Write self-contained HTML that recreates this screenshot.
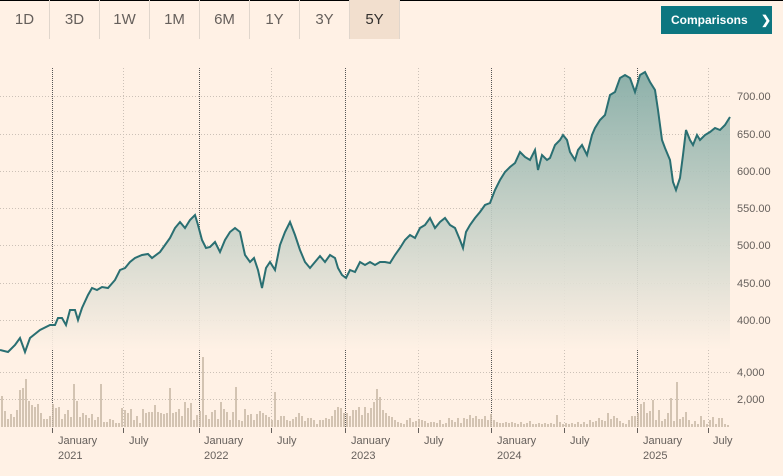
<!DOCTYPE html>
<html><head><meta charset="utf-8"><style>
body{margin:0;background:#fff1e5;width:783px;height:476px;overflow:hidden;font-family:"Liberation Sans",sans-serif}
.tabs{position:absolute;left:0;top:0;height:39px;display:flex}
.tab{width:49px;height:39px;line-height:39px;text-align:center;font-size:15px;color:#66605c;border-right:1px solid #e0d6cc}
.tab.on{background:#f2dfce;color:#33302e}
.btn{position:absolute;left:661px;top:6px;width:111px;height:28px;background:#0d7680;color:#fff;font-size:12px;font-weight:bold;line-height:28px;padding-left:10px;box-sizing:border-box}
svg{position:absolute;left:0;top:0}
</style></head><body>
<div style="position:absolute;left:0;top:0;width:783px;height:1px;background:#000"></div>
<div class="tabs"><div class="tab">1D</div><div class="tab">3D</div><div class="tab">1W</div><div class="tab">1M</div><div class="tab">6M</div><div class="tab">1Y</div><div class="tab">3Y</div><div class="tab on">5Y</div></div>
<div class="btn">Comparisons <span style="margin-left:10px">❯</span></div>
<svg width="783" height="476" xmlns="http://www.w3.org/2000/svg">
<defs><linearGradient id="g" x1="0" y1="70" x2="0" y2="350" gradientUnits="userSpaceOnUse"><stop offset="0" stop-color="#7fa9a3"/><stop offset="1" stop-color="#fff1e5"/></linearGradient></defs>
<g stroke="#ccc1b7" stroke-width="1" stroke-dasharray="1,2">
<line x1="0" y1="96.5" x2="730" y2="96.5"/><line x1="0" y1="134.5" x2="730" y2="134.5"/><line x1="0" y1="171.5" x2="730" y2="171.5"/><line x1="0" y1="208.5" x2="730" y2="208.5"/><line x1="0" y1="245.5" x2="730" y2="245.5"/><line x1="0" y1="283.5" x2="730" y2="283.5"/><line x1="0" y1="320.5" x2="730" y2="320.5"/>
<line x1="0" y1="372.5" x2="730" y2="372.5"/><line x1="0" y1="399.5" x2="730" y2="399.5"/>
<line x1="123.5" y1="68" x2="123.5" y2="428"/><line x1="271.5" y1="68" x2="271.5" y2="428"/><line x1="418.5" y1="68" x2="418.5" y2="428"/><line x1="564.5" y1="68" x2="564.5" y2="428"/><line x1="708.5" y1="68" x2="708.5" y2="428"/>
</g>
<g stroke="#555" stroke-width="1" stroke-dasharray="1,1">
<line x1="52.5" y1="68" x2="52.5" y2="428"/><line x1="199.5" y1="68" x2="199.5" y2="428"/><line x1="345.5" y1="68" x2="345.5" y2="428"/><line x1="491.5" y1="68" x2="491.5" y2="428"/><line x1="637.5" y1="68" x2="637.5" y2="428"/>
</g>
<path id="area" fill="url(#g)" opacity="0.9"/>
<path id="line" fill="none" stroke="#2a6f72" stroke-width="2"/>
<path stroke="#c8b8a6" stroke-width="1.6" fill="none" d="M2 427V396M5 427V411M8 427V419M11 427V414M14 427V417M17 427V410M20 427V390M23 427V388M26 427V379M29 427V401M32 427V405M35 427V407M38 427V404M41 427V413M44 427V419M47 427V419M50 427V416M53 427V404M56 427V408M59 427V407M62 427V419M65 427V414M68 427V410M71 427V417M74 427V384M77 427V401M80 427V417M83 427V413M86 427V415M89 427V418M92 427V414M95 427V420M98 427V417M101 427V384M104 427V422M107 427V422M110 427V419M113 427V420M116 427V423M119 427V423M122 427V408M125 427V410M128 427V413M131 427V409M134 427V420M137 427V416M140 427V423M143 427V409M146 427V413M149 427V412M152 427V412M155 427V405M158 427V412M161 427V413M164 427V414M167 427V413M170 427V388M173 427V413M176 427V412M179 427V409M182 427V416M185 427V402M188 427V408M191 427V403M194 427V420M197 427V415M200 427V411M203 427V357M206 427V415M209 427V419M212 427V412M215 427V410M218 427V419M221 427V402M224 427V409M227 427V412M230 427V420M233 427V412M236 427V387M239 427V420M242 427V421M245 427V409M248 427V415M251 427V414M254 427V420M257 427V414M260 427V411M263 427V413M266 427V415M269 427V417M272 427V420M275 427V392M278 427V420M281 427V416M284 427V416M287 427V420M290 427V421M293 427V419M296 427V417M299 427V413M302 427V416M305 427V421M308 427V418M311 427V418M314 427V420M317 427V424M320 427V420M323 427V420M326 427V418M329 427V419M332 427V416M335 427V410M338 427V407M341 427V408M344 427V413M347 427V413M350 427V416M353 427V410M356 427V410M359 427V407M362 427V415M365 427V407M368 427V413M371 427V408M374 427V402M377 427V389M380 427V397M383 427V410M386 427V413M389 427V416M392 427V417M395 427V420M398 427V422M401 427V423M404 427V424M407 427V420M410 427V418M413 427V422M416 427V421M419 427V419M422 427V420M425 427V421M428 427V423M431 427V422M434 427V422M437 427V423M440 427V420M443 427V424M446 427V423M449 427V418M452 427V420M455 427V422M458 427V418M461 427V423M464 427V418M467 427V419M470 427V415M473 427V418M476 427V416M479 427V419M482 427V419M485 427V416M488 427V420M491 427V414M494 427V420M497 427V422M500 427V423M503 427V423M506 427V422M509 427V423M512 427V422M515 427V423M518 427V424M521 427V422M524 427V424M527 427V423M530 427V421M533 427V424M536 427V424M539 427V423M542 427V424M545 427V423M548 427V424M551 427V423M554 427V424M557 427V415M560 427V422M563 427V424M566 427V423M569 427V424M572 427V423M575 427V424M578 427V422M581 427V424M584 427V422M587 427V424M590 427V420M593 427V422M596 427V421M599 427V418M602 427V420M605 427V421M608 427V413M611 427V419M614 427V416M617 427V418M620 427V421M623 427V423M626 427V424M629 427V420M632 427V416M635 427V416M638 427V413M641 427V404M644 427V402M647 427V413M650 427V411M653 427V400M656 427V420M659 427V410M662 427V421M665 427V419M668 427V413M671 427V398M674 427V421M677 427V382M680 427V419M683 427V417M686 427V412M689 427V420M692 427V424M695 427V421M698 427V424M701 427V416M704 427V420M707 427V424M710 427V420M713 427V417M716 427V424M719 427V418M722 427V418M725 427V424M728 427V425"/>
<g font-size="11" fill="#66605c">
<text x="737" y="100">700.00</text><text x="737" y="138">650.00</text><text x="737" y="175">600.00</text><text x="737" y="212">550.00</text><text x="737" y="249">500.00</text><text x="737" y="287">450.00</text><text x="737" y="324">400.00</text>
<text x="737" y="376">4,000</text><text x="737" y="403">2,000</text>
</g>
<g stroke="#66605c"><line x1="52.5" y1="428" x2="52.5" y2="433"/><line x1="123.5" y1="428" x2="123.5" y2="433"/><line x1="199.5" y1="428" x2="199.5" y2="433"/><line x1="271.5" y1="428" x2="271.5" y2="433"/><line x1="345.5" y1="428" x2="345.5" y2="433"/><line x1="418.5" y1="428" x2="418.5" y2="433"/><line x1="491.5" y1="428" x2="491.5" y2="433"/><line x1="564.5" y1="428" x2="564.5" y2="433"/><line x1="637.5" y1="428" x2="637.5" y2="433"/><line x1="708.5" y1="428" x2="708.5" y2="433"/></g>
<g font-size="11" fill="#66605c">
<text x="58" y="444">January</text><text x="58" y="459">2021</text><text x="129" y="444">July</text>
<text x="204" y="444">January</text><text x="204" y="459">2022</text><text x="277" y="444">July</text>
<text x="351" y="444">January</text><text x="351" y="459">2023</text><text x="424" y="444">July</text>
<text x="497" y="444">January</text><text x="497" y="459">2024</text><text x="570" y="444">July</text>
<text x="643" y="444">January</text><text x="643" y="459">2025</text><text x="713" y="444">July</text>
</g>
</svg>
<script>
var p=[0,350,8,352,15,345,20,338,25,352,30,338,40,330,50,325,55,325,58,318,62,318,66,325,70,310,75,310,78,320,82,308,88,295,92,288,97,290,102,287,108,288,115,280,120,270,125,268,130,262,135,258,142,255,148,254,152,258,160,252,165,245,170,238,175,228,180,222,185,228,190,220,195,215,198,225,202,240,206,248,210,247,215,242,220,252,225,240,230,232,235,228,240,232,245,255,250,262,254,258,258,270,262,288,266,268,270,262,275,270,280,245,285,232,290,222,295,235,300,250,305,262,310,268,315,262,320,256,325,262,330,255,335,258,338,268,342,275,346,278,350,270,355,272,360,262,365,265,370,262,375,265,380,262,385,262,390,263,395,255,400,248,405,240,410,235,415,238,420,228,425,225,430,218,435,228,440,222,445,218,450,225,455,228,460,240,463,248,466,232,470,225,475,218,480,212,485,205,490,203,495,190,500,180,505,172,510,167,515,163,520,152,525,157,530,160,535,150,538,170,542,155,547,160,550,158,555,145,560,140,563,135,567,140,570,152,575,160,578,150,582,145,587,155,592,135,595,128,600,120,605,115,610,95,615,92,620,78,625,75,630,78,635,92,640,75,645,72,650,82,655,90,658,110,662,140,665,148,670,160,673,182,676,190,680,178,683,155,686,130,690,140,693,145,697,135,700,140,705,135,710,132,715,128,720,130,725,125,730,117];
var d="M"+p[0]+","+p[1];for(var i=2;i<p.length;i+=2){d+=" L"+p[i]+","+p[i+1];}
document.getElementById("line").setAttribute("d",d);
document.getElementById("area").setAttribute("d",d+" L730,350 L0,350 Z");
</script>
</body></html>
